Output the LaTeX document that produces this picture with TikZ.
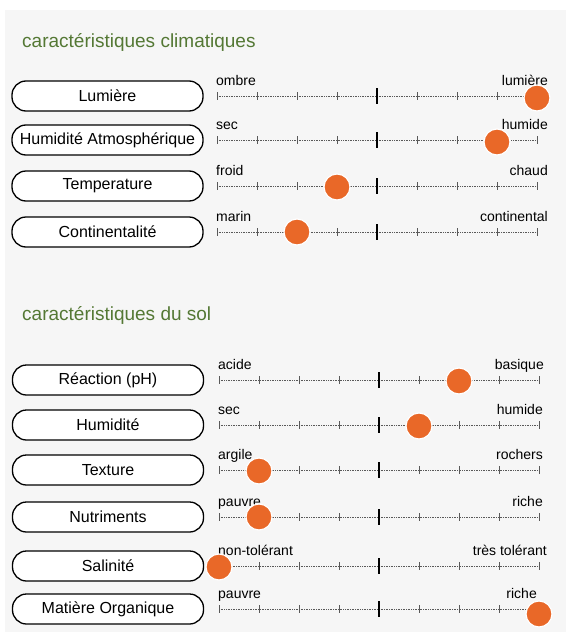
\documentclass[tikz,border=0pt]{standalone}
\usepackage{fontspec}
\setmainfont{Liberation Sans}
\definecolor{PageGray}{RGB}{246,246,246}
\definecolor{TitleGreen}{RGB}{84,120,52}
\definecolor{DotOrange}{RGB}{233,104,40}
\colorlet{ScaleGray}{black!65}

\begin{document}
\begin{tikzpicture}[x=1pt, y=-1pt,
    factor/.style = {draw, line width = 1.3pt, rounded corners = 14pt, fill = white,
        minimum width = 191pt, minimum height = 30pt, inner sep = 0pt,
        font = \fontsize{16}{16}\selectfont},
    title/.style = {anchor = base west, inner sep = 0pt, text = TitleGreen,
        font = \fontsize{19}{19}\selectfont},
    ends/.style = {inner sep = 0pt, font = \fontsize{14}{14}\selectfont},
    scaleline/.style = {ScaleGray, line width = 1pt, dash pattern = on 1pt off 0.7pt},
    tickline/.style = {ScaleGray, line width = 1pt},
    midtick/.style = {black, line width = 1.8pt},
    level/.style = {circle, fill = DotOrange, draw = white, line width = 1.2pt,
        minimum size = 26pt, inner sep = 0pt}]

\useasboundingbox (0, 0) rectangle (566, 637);
\fill[PageGray] (5, 10) rectangle (566, 632);

\node[title] (climat) at (22, 47) {caractéristiques climatiques};
\node[title] (sol) at (22, 320) {caractéristiques du sol};

\foreach \y/\dy/\name/\lo/\hi/\val [count = \i] in {
    96/2/Lumière/ombre/lumière/8,
    140/2/{Humidité Atmosphérique}/sec/humide/7,
    186/1/Temperature/froid/chaud/3,
    232/0/Continentalité/marin/continental/2}
{
    \node[factor] (clim\i) at (107.5, \y) {\name};
    \draw[scaleline] (217, \y) -- (537, \y);
    \foreach \k in {0, 1, 2, 3, 5, 6, 7, 8}
        \draw[tickline] (217 + 40*\k, \y - 4) -- (217 + 40*\k, \y + 4);
    \draw[midtick] (377, \y - 8) -- (377, \y + 8);
    \node[ends, anchor = base west] (climlo\i) at (216, \y - 11) {\lo};
    \node[ends, anchor = base east] (climhi\i) at (548, \y - 11) {\hi};
    \node[level] (climdot\i) at (217 + 40*\val, \y + \dy) {};
}

\foreach \y/\dy/\name/\lo/\hi/\r/\val [count = \i] in {
    380/1/{Réaction (pH)}/acide/basique/544/6,
    425/1/Humidité/sec/humide/543/5,
    470/1/Texture/argile/rochers/543/1,
    517/0/Nutriments/pauvre/riche/543/1,
    566/1/Salinité/non-tolérant/très tolérant/547/0,
    609/5/{Matière Organique}/pauvre/riche/537/8}
{
    \node[factor] (sol\i) at (108, \y) {\name};
    \draw[scaleline] (219, \y) -- (539, \y);
    \foreach \k in {0, 1, 2, 3, 5, 6, 7, 8}
        \draw[tickline] (219 + 40*\k, \y - 4) -- (219 + 40*\k, \y + 4);
    \draw[midtick] (379, \y - 8) -- (379, \y + 8);
    \node[ends, anchor = base west] (sollo\i) at (218, \y - 11) {\lo};
    \node[ends, anchor = base east] (solhi\i) at (\r, \y - 11) {\hi};
    \node[level] (soldot\i) at (219 + 40*\val, \y + \dy) {};
}

\end{tikzpicture}
\end{document}
